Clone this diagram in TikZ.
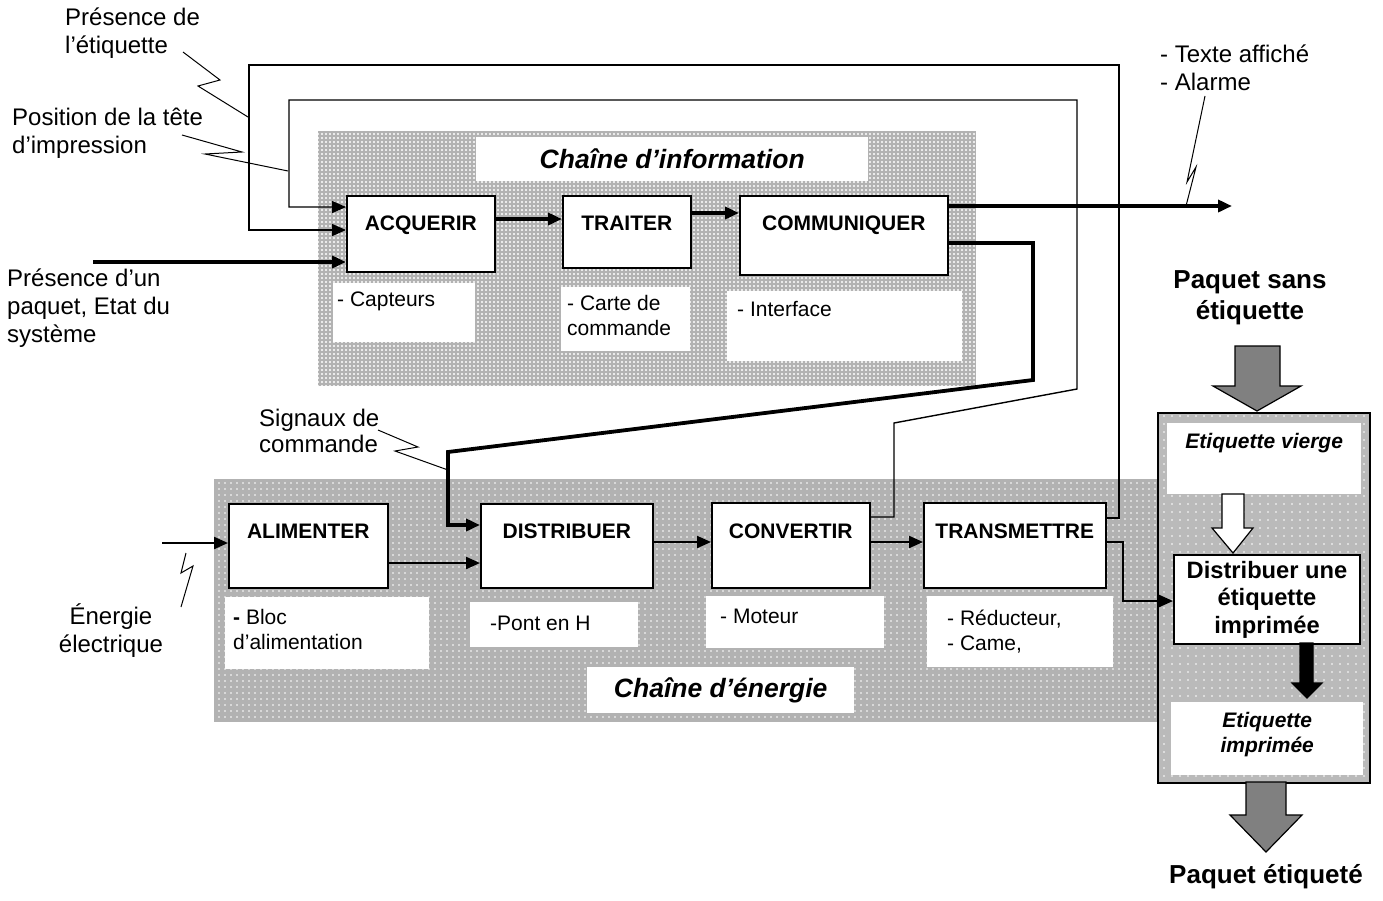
\documentclass[tikz,border=0pt]{standalone}
\usepackage{fontspec}
\setmainfont{Liberation Sans}
\usetikzlibrary{arrows.meta,patterns}
\pgfdeclarepatternformonly{wdotsA}{\pgfqpoint{-1pt}{-1pt}}{\pgfqpoint{5pt}{5pt}}{\pgfqpoint{4pt}{4pt}}{\pgfpathcircle{\pgfqpoint{2pt}{2pt}}{1.1pt}\pgfusepath{fill}}
\pgfdeclarepatternformonly{wdotsB}{\pgfqpoint{-1pt}{-1pt}}{\pgfqpoint{7pt}{7pt}}{\pgfqpoint{6pt}{6pt}}{\pgfpathcircle{\pgfqpoint{3pt}{3pt}}{0.9pt}\pgfusepath{fill}}
\pgfdeclarepatternformonly{wdotsC}{\pgfqpoint{-1pt}{-1pt}}{\pgfqpoint{9pt}{9pt}}{\pgfqpoint{8pt}{8pt}}{\pgfpathcircle{\pgfqpoint{4pt}{4pt}}{0.9pt}\pgfusepath{fill}}
\begin{document}
\begin{tikzpicture}[x=1pt,y=-1pt,
  >={Triangle[length=14pt,width=12pt]},
  blk/.style={draw, line width=1.6pt, fill=white, anchor=north west, inner sep=0pt, font=\bfseries\fontsize{21}{25}\selectfont},
  notebg/.style={fill=white, anchor=north west, inner sep=0pt},
  notetxt/.style={anchor=west, inner sep=0pt, align=left, font=\fontsize{21}{25}\selectfont},
  lbl/.style={inner sep=0pt, align=left, font=\fontsize{24}{28}\selectfont},
  titlebox/.style={fill=white, anchor=north west, inner sep=0pt, font=\bfseries\itshape\fontsize{26.5}{30}\selectfont},
  loopline/.style={line width=1.4pt},
  thickline/.style={line width=3.8pt},
  enline/.style={line width=2.2pt},
  bolt/.style={line width=1pt},
  bgA/.style={preaction={fill=black!30}, pattern=wdotsA, pattern color=white, anchor=north west, inner sep=0pt},
  bgB/.style={preaction={fill=black!30}, pattern=wdotsB, pattern color=white, anchor=north west, inner sep=0pt},
  bgC/.style={preaction={fill=black!27}, pattern=wdotsC, pattern color=white, anchor=north west, inner sep=0pt},
  blockarrow/.style={line width=1.2pt, draw=black}
]
\useasboundingbox (0,0) rectangle (1383,900);

% backgrounds
\node[bgA, minimum width=658pt, minimum height=255pt] (infobg) at (318,131) {};
\node[bgB, minimum width=946pt, minimum height=243pt] (enbg) at (214,479) {};

% titles
\node[titlebox, minimum width=392pt, minimum height=44pt] (infot) at (476,137) {Chaîne d’information};
\node[titlebox, minimum width=267pt, minimum height=46pt] (ent) at (587,667) {Chaîne d’énergie};

% notes
\node[notebg, minimum width=142pt, minimum height=59pt] (capb) at (333,283) {};
\node[notetxt] (capt) at ([xshift=4pt,yshift=-18pt]capb.north west) {- Capteurs};
\node[notebg, minimum width=129pt, minimum height=64pt] (carb) at (561,287) {};
\node[notetxt] (cart) at ([xshift=6pt,yshift=-28pt]carb.north west) {- Carte de\\commande};
\node[notebg, minimum width=235pt, minimum height=70pt] (intb) at (727,291) {};
\node[notetxt] (intt) at ([xshift=10pt,yshift=-18pt]intb.north west) {- Interface};
\node[notebg, minimum width=204pt, minimum height=72pt] (blocb) at (225,597) {};
\node[notetxt] (bloct) at ([xshift=8pt,yshift=-32.5pt]blocb.north west) {\textbf{-} Bloc\\d’alimentation};
\node[notebg, minimum width=168pt, minimum height=45pt] (pontb) at (470,602) {};
\node[notetxt] (pontt) at ([xshift=20pt,yshift=-21pt]pontb.north west) {-Pont en H};
\node[notebg, minimum width=178pt, minimum height=52pt] (motb) at (706,596) {};
\node[notetxt] (mott) at ([xshift=14pt,yshift=-20pt]motb.north west) {- Moteur};
\node[notebg, minimum width=186pt, minimum height=71pt] (redb) at (927,596) {};
\node[notetxt] (redt) at ([xshift=20pt,yshift=-35.5pt]redb.north west) {- Réducteur,\\- Came,};

% blocks
\node[blk, minimum width=148pt, text height=34.5pt, text depth=41.5pt] (acq) at (346,195) {ACQUERIR};
\node[blk, minimum width=128pt, text height=34.5pt, text depth=37.5pt] (tra) at (562,195) {TRAITER};
\node[blk, minimum width=208pt, text height=34.5pt, text depth=44.5pt] (com) at (739,195) {COMMUNIQUER};
\node[blk, minimum width=159pt, text height=34.5pt, text depth=49.5pt] (ali) at (228,503) {ALIMENTER};
\node[blk, minimum width=172pt, text height=34.5pt, text depth=49.5pt] (dis) at (480,503) {DISTRIBUER};
\node[blk, minimum width=158pt, text height=35.5pt, text depth=49.5pt] (cnv) at (711,502) {CONVERTIR};
\node[blk, minimum width=182pt, text height=35.5pt, text depth=49.5pt] (trs) at (923,502) {TRANSMETTRE};

% right column
\node[bgC, draw, line width=2pt, minimum width=212pt, minimum height=370pt] (rbox) at (1157,412) {};
\node[notebg, minimum width=194pt, minimum height=71pt] (evb) at (1167,423) {};
\node[inner sep=0pt, font=\bfseries\itshape\fontsize{21}{25}\selectfont] (evt) at ([yshift=-20pt]evb.north) {Etiquette vierge};
\node[draw, line width=2pt, fill=white, anchor=north west, inner sep=0pt, minimum width=186pt, minimum height=89pt, align=center, font=\bfseries\fontsize{23.7}{27.5}\selectfont] (dlab) at (1173,554) {Distribuer une\\étiquette\\imprimée};
\node[notebg, minimum width=192pt, minimum height=73pt] (eib) at (1171,702) {};
\node[inner sep=0pt, align=center, font=\bfseries\itshape\fontsize{21}{25}\selectfont] (eit) at ([yshift=-32.5pt]eib.north) {Etiquette\\imprimée};

\filldraw[blockarrow, fill=black!50] (1235,346) -- (1280,346) -- (1280,386) -- (1301,386) -- (1257,411) -- (1213,386) -- (1235,386) -- cycle;
\filldraw[blockarrow, fill=white] (1222,494) -- (1244,494) -- (1244,528) -- (1253,528) -- (1233,553) -- (1212,528) -- (1222,528) -- cycle;
\filldraw[blockarrow, fill=black] (1300,643) -- (1313,643) -- (1313,683) -- (1322,683) -- (1307,698) -- (1292,683) -- (1300,683) -- cycle;
\filldraw[blockarrow, fill=black!50] (1246,782) -- (1286,782) -- (1286,815) -- (1302,815) -- (1266,852) -- (1230,815) -- (1246,815) -- cycle;

\node[inner sep=0pt, align=center, font=\bfseries\fontsize{26}{31}\selectfont] (psans) at (1250,298) {Paquet sans\\étiquette};
\node[inner sep=0pt, font=\bfseries\fontsize{26}{31}\selectfont] (petiq) at (1266,877) {Paquet étiqueté};

% labels
\node[lbl, anchor=west] (pe) at (65,33.5) {Présence de\\l’étiquette};
\node[lbl, anchor=west] (pt) at (12,133.5) {Position de la tête\\d’impression};
\node[lbl, anchor=west] (pp) at (7,308) {Présence d’un\\paquet, Etat du\\système};
\node[lbl, anchor=west] (ta) at (1160,67.5) {- Texte affiché\\- Alarme};
\node[lbl, anchor=west, font=\fontsize{24}{26}\selectfont] (sc) at (259,430.5) {Signaux de\\commande};
\node[lbl, align=center] (ee) at (111,631) {Énergie\\électrique};

% lightning marks
\draw[bolt] (183,52) -- (220,80) -- (198,86) -- (248,117);
\draw[bolt] (182,135) -- (242,152) -- (205,154) -- (288,171);
\draw[bolt] (1205,96) -- (1187,182) -- (1196,167) -- (1186,206);
\draw[bolt] (378,430) -- (418,447) -- (395,451) -- (448,470);
\draw[bolt] (186,553) -- (181,573) -- (193,566) -- (181,607);

% feedback loops
\draw[loopline, ->] ([yshift=-16pt]trs.north east) -- (1119,518) -- (1119,65) -- (249,65) -- (249,230) -- ([yshift=-35pt]acq.north west);
\draw[loopline, ->] ([yshift=-15pt]cnv.north east) -- (894,517) -- (894,423) -- (1077,389) -- (1077,100) -- (289,100) -- (289,207) -- ([yshift=-12pt]acq.north west);

% information chain
\coordinate (pin) at (93,262);
\draw[thickline, ->] (pin) -- ([yshift=-67pt]acq.north west);
\draw[thickline, ->] ([yshift=-24pt]acq.north east) -- ([yshift=-24pt]tra.north west);
\draw[thickline, ->] ([yshift=-18pt]tra.north east) -- ([yshift=-18pt]com.north west);
\coordinate (cout) at (1232,206);
\draw[thickline, ->] ([yshift=-11pt]com.north east) -- (cout);
\draw[thickline, ->] ([yshift=-48pt]com.north east) -- (1033,243) -- (1033,380) -- (448,452) -- (448,525) -- ([yshift=-22pt]dis.north west);

% energy chain
\coordinate (ein) at (162,543);
\draw[enline, ->] (ein) -- ([yshift=-40pt]ali.north west);
\draw[enline, ->] ([yshift=-60pt]ali.north east) -- ([yshift=-60pt]dis.north west);
\draw[enline, ->] ([yshift=-39pt]dis.north east) -- ([yshift=-40pt]cnv.north west);
\draw[enline, ->] ([yshift=-40pt]cnv.north east) -- ([yshift=-40pt]trs.north west);
\draw[enline, ->] ([yshift=-40pt]trs.north east) -- (1123,542) -- (1123,601) -- ([yshift=-47pt]dlab.north west);
\end{tikzpicture}
\end{document}
